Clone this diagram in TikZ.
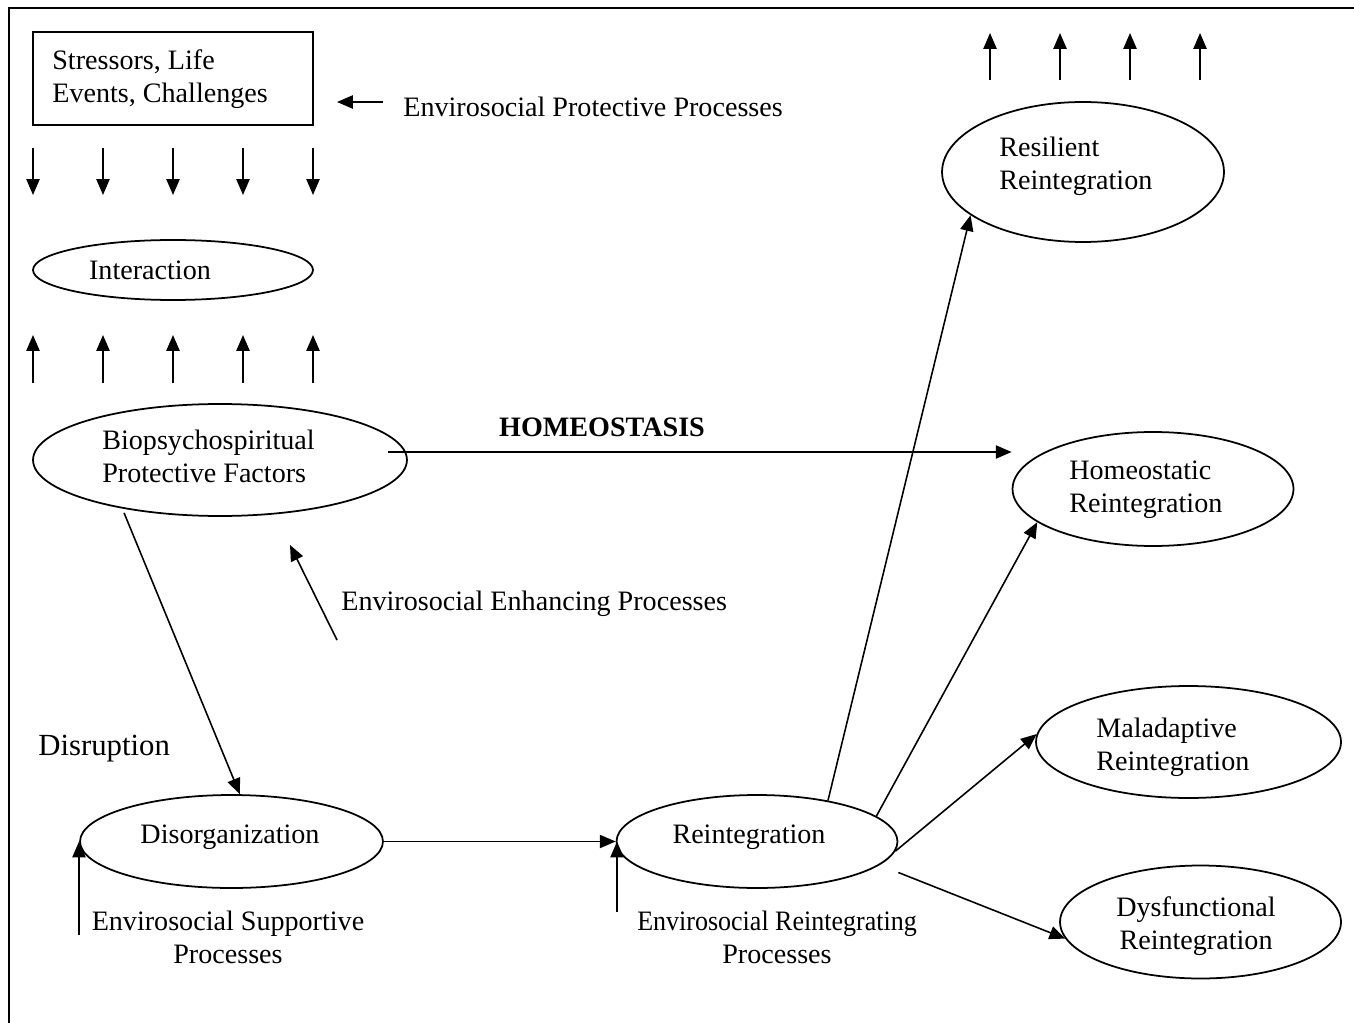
\documentclass[tikz,border=0pt]{standalone}
\usepackage{fontspec}
\usepackage{graphicx}
\setmainfont{Liberation Serif}
\usetikzlibrary{arrows.meta,shapes.geometric}
\begin{document}
\begin{tikzpicture}[x=0.02cm,y=-0.02cm,
  every node/.style={font=\fontsize{16}{18.8}\selectfont},
  oval/.style={draw, ellipse, line width=1pt, inner sep=0pt},
  txt/.style={inner sep=0pt, align=left},
  ctxt/.style={inner sep=0pt, align=center},
  arr/.style={line width=0.9pt, -{Triangle[length=9pt,width=7.5pt]}}]
\useasboundingbox (0,0) rectangle (1354,1023);

% outer frame (top and left rules)
\coordinate (frtl) at (9,8);
\coordinate (frtr) at (1354,8);
\coordinate (frbl) at (9,1023);
\draw[line width=1.1pt] (frtr) -- (frtl) -- (frbl);

% shapes
\node[draw, line width=1pt, minimum width=5.6cm, minimum height=1.86cm, inner sep=0pt] (stress) at (173,78.5) {};
\node[oval, minimum width=5.6cm,  minimum height=1.2cm]  (inter)  at (173,270) {};
\node[oval, minimum width=7.48cm, minimum height=2.24cm] (bio)    at (220,460) {};
\node[oval, minimum width=5.64cm, minimum height=2.8cm]  (resil)  at (1083,172) {};
\node[oval, minimum width=5.62cm, minimum height=2.28cm] (homeo)  at (1153,489) {};
\node[oval, minimum width=6.1cm,  minimum height=2.24cm] (malad)  at (1188.5,742) {};
\node[oval, minimum width=5.62cm, minimum height=2.26cm] (dysf)   at (1200.5,922) {};
\node[oval, minimum width=6.06cm, minimum height=1.86cm] (disorg) at (231.5,841.5) {};
\node[oval, minimum width=5.62cm, minimum height=1.86cm] (reint)  at (757,841.5) {};

% texts
\node[txt, anchor=west] (stresst) at (52,79) {Stressors, Life\\Events, Challenges};
\node[txt, anchor=west] (protl) at (403,107) {Envirosocial Protective Processes};
\node[txt] (intert) at (150,270) {Interaction};
\node[txt, anchor=west] (biot) at (102,456) {Biopsychospiritual\\Protective Factors};
\node[txt, font=\bfseries\fontsize{16}{18.8}\selectfont] (homeol) at (602,427) {HOMEOSTASIS};
\node[txt, anchor=west] (enhl) at (341,604) {Envirosocial Enhancing Processes};
\node[txt, anchor=west, font=\fontsize{17.5}{20}\selectfont] (disrl) at (38,749) {Disruption};
\node[txt] (disorgt) at (230,837) {Disorganization};
\node[txt] (reintt) at (749,837) {Reintegration};
\node[ctxt] (supl) at (228,937) {Envirosocial Supportive\\Processes};
\node[ctxt] (reintl) at (777,937) {\scalebox{0.925}[1]{Envirosocial Reintegrating}\\Processes};
\node[txt, anchor=west] (resilt) at (999,166) {Resilient\\Reintegration};
\node[txt, anchor=west] (homeot) at (1069,490) {Homeostatic\\Reintegration};
\node[txt, anchor=west] (maladt) at (1096,747) {Maladaptive\\Reintegration};
\node[ctxt] (dysft) at (1196,926) {Dysfunctional\\Reintegration};

% arrows from the stressor box down to the interaction
\foreach \x [count=\i] in {33,103,173,243,313} {
  \coordinate (dna\i) at (\x,148);
  \coordinate (dnb\i) at (\x,195);
  \draw[arr] (dna\i) -- (dnb\i);
}
% arrows from the protective factors up to the interaction
\foreach \x [count=\i] in {33,103,173,243,313} {
  \coordinate (upa\i) at (\x,383);
  \coordinate (upb\i) at (\x,335);
  \draw[arr] (upa\i) -- (upb\i);
}
% arrows rising above resilient reintegration
\foreach \x [count=\i] in {990,1060,1130,1200} {
  \coordinate (rsa\i) at (\x,80);
  \coordinate (rsb\i) at (\x,33);
  \draw[arr] (rsa\i) -- (rsb\i);
}

% free-standing process arrows
\coordinate (prota) at (383,102);
\coordinate (protb) at (337,102);
\draw[arr] (prota) -- (protb);
\coordinate (enha) at (337,640);
\coordinate (enhb) at (290,545);
\draw[arr] (enha) -- (enhb);

% homeostasis
\draw[arr] ([xshift=-0.4cm,yshift=0.16cm]bio.east) coordinate (hom0) -- (hom0 -| homeo.west);

% disruption path
\draw[arr] ([yshift=-0.08cm]bio.207) -- (disorg.80);
\draw[arr] (disorg.east) -- (reint.west);
\coordinate (supa) at (79,935);
\draw[arr] (supa) -- (supa |- disorg.west);
\coordinate (reia) at (617,912);
\draw[arr] (reia) -- (reia |- reint.west);

% reintegration outcomes
\draw[arr] (reint.30) -- (resil.201);
\draw[arr] (reint.12) -- (homeo.196);
\draw[arr] (reint.-4) -- (malad.177);
\draw[arr] ([yshift=-0.62cm]reint.east) -- (dysf.187);
\end{tikzpicture}
\end{document}
